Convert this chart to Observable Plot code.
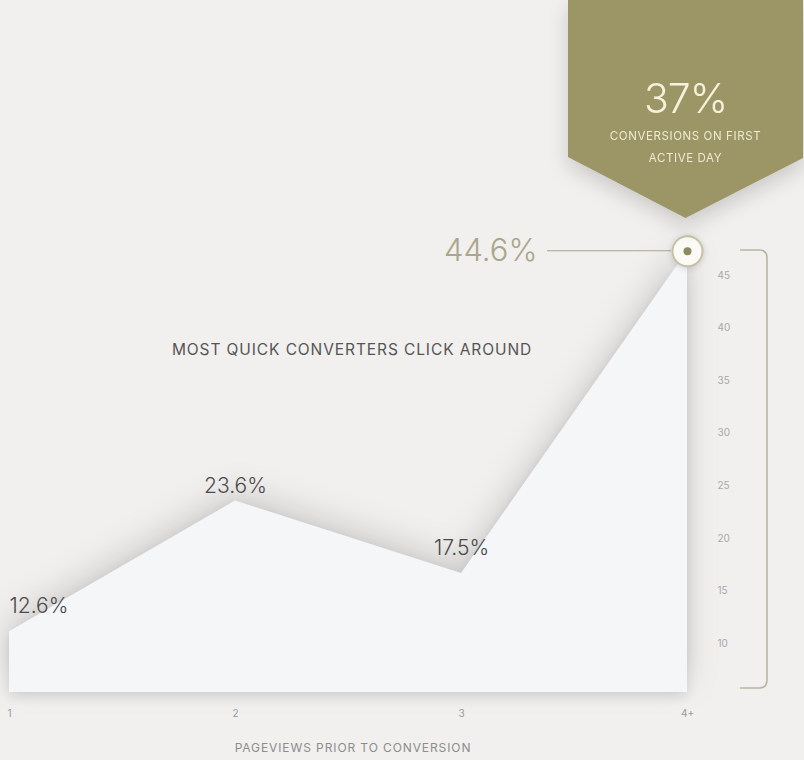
<!DOCTYPE html>
<html>
<head>
<meta charset="utf-8">
<script src="https://cdn.jsdelivr.net/npm/d3@7"></script>
<script src="https://cdn.jsdelivr.net/npm/@observablehq/plot@0.6"></script>
<style>
  html, body { margin: 0; padding: 0; background: #f1f0ef; }
  body { font-family: Inter, "Open Sans", sans-serif; }
  #wrap { position: relative; width: 804px; height: 760px; overflow: hidden; background: #f1f0ef; }
  #wrap svg { position: absolute; left: 0; top: 0; }
  .banner-shadow { position: absolute; left: 568px; top: 0; width: 235px; height: 218px;
    filter: drop-shadow(0 8px 10px rgba(0,0,0,0.16)); }
  .banner { width: 100%; height: 100%; background: #9c9667;
    clip-path: polygon(0 0, 100% 0, 100% 158px, 50% 100%, 0 157px); color: #f6f1dc; text-align: center; }
  .banner .big { position: absolute; left: 0; right: 0; top: 76px; font-size: 41px; font-weight: 300; line-height: 44px; letter-spacing: -1px; }
  .banner .small { position: absolute; left: 0; right: 0; font-size: 11.5px; letter-spacing: 0.6px; font-weight: 400; color: #efe9d0; }
  .title { position: absolute; left: 0; width: 704px; top: 340px; text-align: center; font-size: 15.5px; color: #555; letter-spacing: 0.9px; }
  .xtitle { position: absolute; left: 0; width: 706px; top: 740px; text-align: center; font-size: 12px; color: #8c8c8c; letter-spacing: 0.9px; }
</style>
</head>
<body>
<div id="wrap"></div>
<script>
// ---- data ----
const categories = ["1", "2", "3", "4+"];
const values = [12.6, 23.6, 17.5, 44.6];
const valueLabels = ["12.6%", "23.6%", "17.5%", "44.6%"];
const yTicks = [10, 15, 20, 25, 30, 35, 40, 45];
const bannerValue = "37%";
const bannerLines = ["CONVERSIONS ON FIRST", "ACTIVE DAY"];
const chartTitle = "MOST QUICK CONVERTERS CLICK AROUND";
const xTitle = "PAGEVIEWS PRIOR TO CONVERSION";

const data = categories.map((c, i) => ({cat: c, value: values[i], label: valueLabels[i]}));
const last = data[data.length - 1];
const yBase = 7.5;
const font = "Inter, 'Open Sans', sans-serif";

const wrap = document.getElementById("wrap");

// ---- main area plot ----
const main = Plot.plot({
  width: 804,
  height: 760,
  marginLeft: 9,
  marginRight: 117,
  marginTop: 246,
  marginBottom: 68,
  style: {background: "transparent", fontFamily: font},
  x: {type: "point", domain: categories, padding: 0, axis: null},
  y: {domain: [yBase, 45], axis: null},
  marks: [
    Plot.areaY(data, {x: "cat", y: "value", y1: yBase, fill: "#f5f6f8", curve: "linear"}),
    // x tick labels
    Plot.text(data, {x: "cat", text: "cat", frameAnchor: "bottom", dy: 24, fill: "#9a9a9a", fontSize: 10}),
    // value labels
    Plot.text(data.slice(0, 1), {x: "cat", y: "value", text: "label", textAnchor: "start", dy: -26, fill: "#4a4a4a", fontSize: 21, fontWeight: 300, letterSpacing: -0.5}),
    Plot.text(data.slice(1, 2), {x: "cat", y: "value", text: "label", dy: -15, fill: "#4a4a4a", fontSize: 21, fontWeight: 300}),
    Plot.text(data.slice(2, 3), {x: "cat", y: "value", text: "label", dy: -25, fill: "#4a4a4a", fontSize: 21, fontWeight: 300}),
    // leader line from the 44.6% label to the point
    (index, scales) => {
      const cx = scales.x(last.cat), cy = scales.y(last.value);
      const l = document.createElementNS("http://www.w3.org/2000/svg", "line");
      l.setAttribute("x1", cx - 140); l.setAttribute("x2", cx - 16);
      l.setAttribute("y1", cy); l.setAttribute("y2", cy);
      l.setAttribute("stroke", "#aaa68c"); l.setAttribute("stroke-width", 1.2);
      return l;
    },
    Plot.text([last], {x: "cat", y: "value", text: "label", textAnchor: "end", dx: -150, fill: "#aaa68b", fontSize: 31, fontWeight: 300}),
    Plot.dot([last], {x: "cat", y: "value", r: 15, fill: "#fbfaf6", stroke: "#c6c1a4", strokeWidth: 2}),
    Plot.dot([last], {x: "cat", y: "value", r: 4, fill: "#8e895f"})
  ]
});
wrap.appendChild(main);
d3.select(main).selectAll("g[aria-label=area] path")
  .style("filter", "drop-shadow(0px -10px 16px rgba(0,0,0,0.14)) drop-shadow(0px 5px 6px rgba(0,0,0,0.10))");
d3.select(main).selectAll("g[aria-label=dot]").filter((d, i) => i === 0)
  .style("filter", "drop-shadow(0px 1px 3px rgba(0,0,0,0.15))");

// ---- right-hand axis overlay ----
const yLo = 5.7, yHi = 47.4;
const axisPlot = Plot.plot({
  width: 804,
  height: 760,
  marginLeft: 0,
  marginRight: 0,
  marginTop: 250,
  marginBottom: 72,
  style: {background: "transparent", fontFamily: font},
  x: {axis: null},
  y: {domain: [yLo, yHi], axis: null},
  marks: [
    Plot.text(yTicks, {y: d => d, text: d => String(d), frameAnchor: "left", dx: 717, textAnchor: "start", fill: "#a8a8a8", fontSize: 10}),
    (index, scales) => {
      const yt = scales.y(yHi), yb = scales.y(yLo);
      const xr = 767, xl = 740, r = 8;
      const p = document.createElementNS("http://www.w3.org/2000/svg", "path");
      p.setAttribute("d", `M${xl},${yt} H${xr - r} Q${xr},${yt} ${xr},${yt + r} V${yb - r} Q${xr},${yb} ${xr - r},${yb} H${xl}`);
      p.setAttribute("fill", "none");
      p.setAttribute("stroke", "#b9b59d");
      p.setAttribute("stroke-width", 1.6);
      return p;
    }
  ]
});
wrap.appendChild(axisPlot);

// ---- banner, title, x title ----
const bs = document.createElement("div");
bs.className = "banner-shadow";
const b = document.createElement("div");
b.className = "banner";
b.innerHTML = `<div class="big">${bannerValue}</div>` +
  `<div class="small" style="top:129px">${bannerLines[0]}</div>` +
  `<div class="small" style="top:151px">${bannerLines[1]}</div>`;
bs.appendChild(b);
wrap.appendChild(bs);

const t = document.createElement("div");
t.className = "title"; t.textContent = chartTitle;
wrap.appendChild(t);
const xt = document.createElement("div");
xt.className = "xtitle"; xt.textContent = xTitle;
wrap.appendChild(xt);
</script>
</body>
</html>
